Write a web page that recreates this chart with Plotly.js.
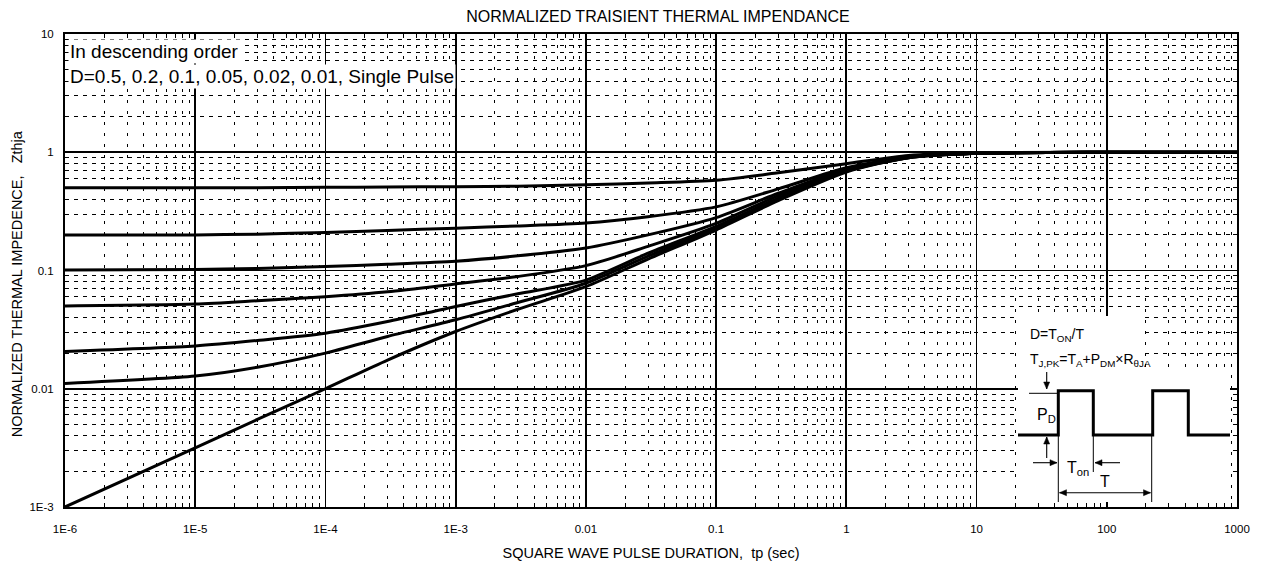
<!DOCTYPE html>
<html>
<head>
<meta charset="utf-8">
<script src="https://cdn.plot.ly/plotly-3.0.1.min.js"></script>
<style>
html,body{margin:0;padding:0;background:#fff;}
#chart{width:1262px;height:565px;}
</style>
</head>
<body>
<div id="chart"></div>
<script>
// ---------------- DATA ----------------
const pulseDuration = [1e-6, 1e-5, 3e-5, 1e-4, 3e-4, 1e-3, 3e-3, 1e-2, 3e-2, 0.1, 0.3, 1, 3, 10, 100, 1000];
const zD050   = [0.5,    0.5,     0.502,  0.505, 0.508,  0.512,  0.517,  0.53,  0.55,  0.58,  0.67, 0.80, 0.94, 0.99, 1.0, 1.0];
const zD020   = [0.2,    0.2,     0.203,  0.21,  0.218,  0.228,  0.238,  0.252, 0.285, 0.345, 0.49, 0.74, 0.91, 0.98, 1.0, 1.0];
const zD010   = [0.101,  0.102,   0.104,  0.108, 0.113,  0.12,   0.133,  0.155, 0.2,   0.28,  0.45, 0.72, 0.91, 0.98, 1.0, 1.0];
const zD005   = [0.0502, 0.052,   0.0555, 0.06,  0.066,  0.077,  0.089,  0.11,  0.16,  0.25,  0.43, 0.71, 0.91, 0.98, 1.0, 1.0];
const zD002   = [0.0207, 0.023,   0.0256, 0.0295,0.037,  0.0497, 0.0635, 0.083, 0.14,  0.236, 0.41, 0.70, 0.90, 0.98, 1.0, 1.0];
const zD001   = [0.0111, 0.0128,  0.0152, 0.020, 0.0277, 0.0383, 0.0536, 0.078, 0.132, 0.228, 0.40, 0.69, 0.90, 0.98, 1.0, 1.0];
const zSingle = [0.001,  0.00316, 0.0055, 0.01,  0.0175, 0.0305, 0.047,  0.073, 0.125, 0.22,  0.39, 0.68, 0.90, 0.98, 1.0, 1.0];
const seriesNames = ['D=0.5', 'D=0.2', 'D=0.1', 'D=0.05', 'D=0.02', 'D=0.01', 'Single Pulse'];
const seriesValues = [zD050, zD020, zD010, zD005, zD002, zD001, zSingle];

const xTickVals = [1e-6, 1e-5, 1e-4, 1e-3, 0.01, 0.1, 1, 10, 100, 1000];
const xTickText = ['1E-6', '1E-5', '1E-4', '1E-3', '0.01', '0.1', '1', '10', '100', '1000'];
const yTickVals = [1e-3, 0.01, 0.1, 1, 10];
const yTickText = ['1E-3', '0.01', '0.1', '1', '10'];

const chartTitle = 'NORMALIZED TRAISIENT THERMAL IMPENDANCE';
const xTitle = 'SQUARE WAVE PULSE DURATION,  tp (sec)';
const yTitle = 'NORMALIZED THERMAL IMPEDENCE,   Zthja';
const noteLine1 = 'In descending order';
const noteLine2 = 'D=0.5, 0.2, 0.1, 0.05, 0.02, 0.01, Single Pulse';

// ---------------- LAYOUT HELPERS ----------------
const W = 1262, H = 565;
const ML = 65, MR = 25, MT = 34, MB = 58;
const PL = ML, PR = W - MR, PT = MT, PB = H - MB;
const fx = p => (p - PL) / (PR - PL);
const fy = p => (PB - p) / (PB - PT);
const FONT = 'Liberation Sans, Arial, Helvetica, sans-serif';

function minorVals(decades) {
  const out = [];
  for (let i = 0; i < decades.length - 1; i++) {
    for (let k = 2; k <= 9; k++) out.push(k * decades[i]);
  }
  return out;
}

const traces = seriesValues.map((vals, i) => ({
  type: 'scatter',
  mode: 'lines',
  name: seriesNames[i],
  x: pulseDuration,
  y: vals,
  line: {color: '#000', width: 3, shape: 'spline', smoothing: 0.7},
  hoverinfo: 'x+y+name'
}));

function pathFrom(pts, close) {
  return pts.map((p, i) => (i ? 'L' : 'M') + fx(p[0]).toFixed(5) + ',' + fy(p[1]).toFixed(5)).join(' ') + (close ? ' Z' : '');
}
function seg(x0, y0, x1, y1, w) {
  return {type: 'line', xref: 'paper', yref: 'paper', x0: fx(x0), y0: fy(y0), x1: fx(x1), y1: fy(y1),
          line: {color: '#000', width: w}, layer: 'above'};
}
function head(hx, hy, tx, ty) {
  const dx = hx - tx, dy = hy - ty, len = Math.hypot(dx, dy);
  const ux = dx / len, uy = dy / len, L = 7, Wd = 3;
  const bx = hx - ux * L, by = hy - uy * L;
  const pts = [[hx, hy], [bx - uy * Wd, by + ux * Wd], [bx + uy * Wd, by - ux * Wd]];
  return {type: 'path', xref: 'paper', yref: 'paper', path: pathFrom(pts, true),
          fillcolor: '#000', line: {color: '#000', width: 0.5}, layer: 'above'};
}
function arrowShapes(hx, hy, tx, ty, both) {
  const out = [seg(tx, ty, hx, hy, 1.1), head(hx, hy, tx, ty)];
  if (both) out.push(head(tx, ty, hx, hy));
  return out;
}

const hi = 390.7, lo = 435;
const wave = [[1018, lo], [1058.3, lo], [1058.3, hi], [1093.3, hi], [1093.3, lo], [1152.7, lo],
              [1152.7, hi], [1188.3, hi], [1188.3, lo], [1230, lo]];

const shapes = [
  {type: 'rect', xref: 'paper', yref: 'paper', x0: fx(1018), x1: fx(1145), y0: fy(370), y1: fy(316),
   fillcolor: '#fff', line: {width: 0}, layer: 'above'},
  {type: 'rect', xref: 'paper', yref: 'paper', x0: fx(1018), x1: fx(1230), y0: fy(502), y1: fy(370),
   fillcolor: '#fff', line: {width: 0}, layer: 'above'},
  {type: 'path', xref: 'paper', yref: 'paper', path: pathFrom(wave), line: {color: '#000', width: 3}, layer: 'above'},
  seg(1029, 393.3, 1058.3, 393.3, 1),
  seg(1058.3, lo, 1058.3, 502, 1),
  seg(1093.3, lo, 1093.3, 472, 1),
  seg(1151.7, lo, 1151.7, 502, 1)
].concat(
  arrowShapes(1046.7, 389, 1046.7, 372),
  arrowShapes(1046.7, 437, 1046.7, 458),
  arrowShapes(1057, 462.7, 1033, 462.7),
  arrowShapes(1095, 462.7, 1120, 462.7),
  arrowShapes(1150.5, 492.7, 1059.5, 492.7, true)
);

function label(txt, x, y, size, xanchor, bg) {
  return {xref: 'paper', yref: 'paper', x: fx(x), y: fy(y), text: txt, showarrow: false,
          xanchor: xanchor || 'center', yanchor: 'middle',
          font: {family: FONT, size: size, color: '#000'},
          bgcolor: bg || 'rgba(0,0,0,0)', borderpad: 1};
}

const annotations = [
  label(noteLine1, 68, 51.5, 19, 'left', '#fff'),
  label(noteLine2, 68, 76.5, 19, 'left', '#fff'),
  {xref: 'paper', yref: 'paper', x: fx(17.3), y: fy(284), text: yTitle, textangle: -90, showarrow: false,
   xanchor: 'center', yanchor: 'middle', font: {family: FONT, size: 14.5, color: '#000'}},
  label('D=T<sub>ON</sub>/T', 1028, 335, 14, 'left'),
  label('T<sub>J,PK</sub>=T<sub>A</sub>+P<sub>DM</sub>×R<sub>θJA</sub>', 1028, 360, 14, 'left'),
  label('P<sub>D</sub>', 1046, 415, 16, 'center'),
  label('T<sub>on</sub>', 1078, 468, 16, 'center'),
  label('T', 1105, 481, 16, 'center')
];

const axisCommon = {
  type: 'log',
  showline: true, linecolor: '#000', linewidth: 2, mirror: 'allticks',
  ticks: 'inside', ticklen: 5, tickwidth: 1, tickcolor: '#000',
  showgrid: true, gridcolor: '#000', gridwidth: 1.7,
  zeroline: false,
  tickmode: 'array',
  tickfont: {family: FONT, size: 11.5, color: '#000'},
  fixedrange: true
};

const layout = {
  width: W, height: H,
  margin: {l: ML, r: MR, t: MT, b: MB, pad: 0},
  paper_bgcolor: '#fff', plot_bgcolor: '#fff',
  showlegend: false,
  title: {text: chartTitle, font: {family: FONT, size: 16, color: '#000'},
          xref: 'paper', x: 0.506, xanchor: 'center', yref: 'container', y: 1 - 16 / H, yanchor: 'middle'},
  xaxis: Object.assign({}, axisCommon, {
    range: [-6, 3],
    tickvals: xTickVals, ticktext: xTickText,
    ticklabelstandoff: 10,
    minor: {tickmode: 'array', tickvals: minorVals(xTickVals), ticks: 'inside', ticklen: 4, tickwidth: 1,
            tickcolor: '#000', showgrid: true, gridcolor: '#000', gridwidth: 1, griddash: '3px,8px'},
    title: {text: xTitle, font: {family: FONT, size: 14.5, color: '#000'}, standoff: 14}
  }),
  yaxis: Object.assign({}, axisCommon, {
    range: [-3, 1],
    tickvals: yTickVals, ticktext: yTickText,
    ticklabelstandoff: 7,
    minor: {tickmode: 'array', tickvals: minorVals(yTickVals), ticks: 'inside', ticklen: 4, tickwidth: 1,
            tickcolor: '#000', showgrid: true, gridcolor: '#000', gridwidth: 1, griddash: '4px,5px'}
  }),
  shapes: shapes,
  annotations: annotations
};

Plotly.newPlot('chart', traces, layout, {displayModeBar: false, staticPlot: true});
</script>
</body>
</html>
